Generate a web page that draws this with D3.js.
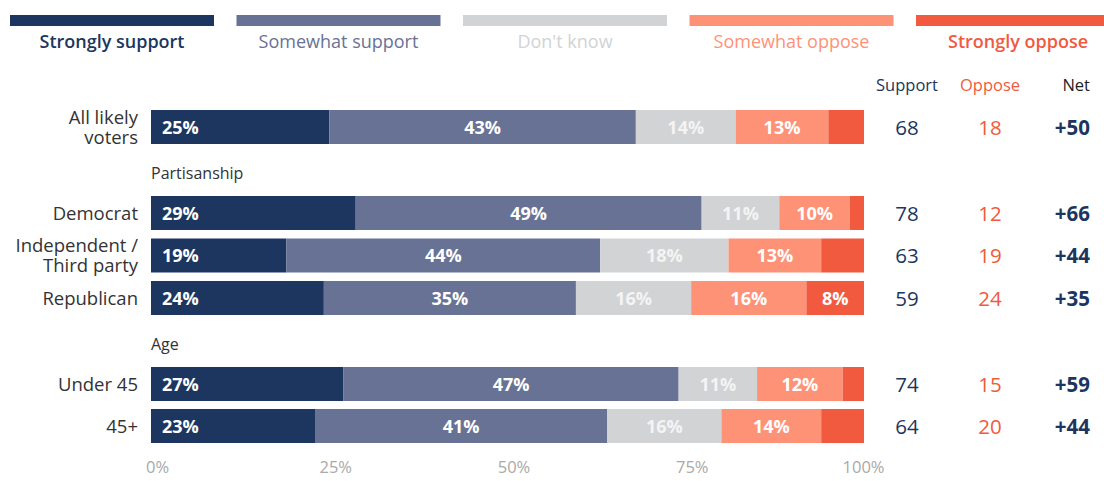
<!DOCTYPE html>
<html>
<head>
<meta charset="utf-8">
<script src="https://cdn.jsdelivr.net/npm/d3@7"></script>
<style>
  html, body { margin: 0; padding: 0; background: #fff; }
  svg { display: block; font-family: "Open Sans", "Lato", sans-serif; }
</style>
</head>
<body>
<svg id="chart" width="1104" height="481"></svg>
<script>
// Response categories, in stacking order
const categories = ["Strongly support", "Somewhat support", "Don't know", "Somewhat oppose", "Strongly oppose"];
const colors = ["#1c3660", "#687295", "#d1d3d5", "#fe9277", "#f15a3e"];
const legendTextColors = ["#1c3660", "#687295", "#d1d3d5", "#fe9277", "#f15a3e"];

// Groups (rows), with section headings
const groups = ["All likely voters", "Democrat", "Independent / Third party", "Republican", "Under 45", "45+"];
const groupLines = [["All likely", "voters"], ["Democrat"], ["Independent /", "Third party"], ["Republican"], ["Under 45"], ["45+"]];
const sections = [{ name: "Partisanship", before: "Democrat" }, { name: "Age", before: "Under 45" }];

// Percent per category, per group
const stronglySupport = [25, 29, 19, 24, 27, 23];
const somewhatSupport = [43, 49, 44, 35, 47, 41];
const dontKnow        = [14, 11, 18, 16, 11, 16];
const somewhatOppose  = [13, 10, 13, 16, 12, 14];
const stronglyOppose  = [5, 2, 6, 8, 3, 6];

// Summary columns
const support = [68, 78, 63, 59, 74, 64];
const oppose  = [18, 12, 19, 24, 15, 20];
const net     = ["+50", "+66", "+44", "+35", "+59", "+44"];

const tickValues = [0, 25, 50, 75, 100];

const series = [stronglySupport, somewhatSupport, dontKnow, somewhatOppose, stronglyOppose];

const svg = d3.select("#chart");

// Horizontal scale over the share of each row's total
const x = d3.scaleLinear().domain([0, 100]).range([151, 864]);

// Vertical positions for each row (sections leave extra room)
const rowTop = { "All likely voters": 110, "Democrat": 196, "Independent / Third party": 238.5, "Republican": 281, "Under 45": 367, "45+": 409 };
const barH = 34;
const y = g => rowTop[g];

// Legend
const legendX = d3.scaleLinear().domain([0, 1]).range([10, 236.5]);
const legend = svg.append("g");
categories.forEach((c, i) => {
  const lx = legendX(i);
  legend.append("rect").attr("x", lx).attr("y", 15).attr("width", 204).attr("height", 11).attr("fill", colors[i]);
  legend.append("text")
    .attr("x", lx + 102).attr("y", 48)
    .attr("text-anchor", "middle")
    .attr("font-size", 18)
    .attr("font-weight", (i === 0 || i === 4) ? 600 : 400)
    .attr("fill", legendTextColors[i])
    .text(c);
});

// Column headers
const colX = { support: 907, oppose: 990, net: 1090 };
svg.append("text").attr("x", colX.support).attr("y", 91).attr("text-anchor", "middle")
  .attr("font-size", 16.5).attr("fill", "#1c3660").text("Support");
svg.append("text").attr("x", colX.oppose).attr("y", 91).attr("text-anchor", "middle")
  .attr("font-size", 16.5).attr("fill", "#f15a3e").text("Oppose");
svg.append("text").attr("x", colX.net).attr("y", 91).attr("text-anchor", "end")
  .attr("font-size", 16.5).attr("fill", "#222").text("Net");

// Section headings
sections.forEach(s => {
  svg.append("text").attr("x", 151).attr("y", y(s.before) - 17)
    .attr("font-size", 16).attr("fill", "#333").text(s.name);
});

// Stacked bars
groups.forEach((g, gi) => {
  const vals = series.map(s => s[gi]);
  const total = d3.sum(vals);
  let acc = 0;
  const row = svg.append("g");
  vals.forEach((v, ci) => {
    const x0 = x(acc / total * 100);
    const x1 = x((acc + v) / total * 100);
    acc += v;
    row.append("rect")
      .attr("x", x0).attr("y", y(g)).attr("width", x1 - x0).attr("height", barH)
      .attr("fill", colors[ci]);
    const showLabel = ci < 4 || v >= 8;
    if (showLabel) {
      const first = ci === 0;
      row.append("text")
        .attr("x", first ? x0 + 11 : (x0 + x1) / 2)
        .attr("y", y(g) + barH / 2 + 6.5)
        .attr("text-anchor", first ? "start" : "middle")
        .attr("font-size", 18)
        .attr("font-weight", 700)
        .attr("fill", ci === 2 ? "#f4f4f4" : "#fff")
        .text(v + "%");
    }
  });

  // Row label (one text element, one tspan per line)
  const lines = groupLines[gi];
  const cy = y(g) + barH / 2;
  const lh = 20;
  const label = svg.append("text")
    .attr("text-anchor", "end")
    .attr("font-size", 18.5)
    .attr("fill", "#333");
  lines.forEach((ln, li) => {
    label.append("tspan")
      .attr("x", 138)
      .attr("y", cy + 6.5 + (li - (lines.length - 1) / 2) * lh)
      .text(ln);
  });

  // Summary columns
  svg.append("text").attr("x", colX.support).attr("y", cy + 7.5).attr("text-anchor", "middle")
    .attr("font-size", 20.5).attr("fill", "#1c3660").text(support[gi]);
  svg.append("text").attr("x", colX.oppose).attr("y", cy + 7.5).attr("text-anchor", "middle")
    .attr("font-size", 20.5).attr("fill", "#f15a3e").text(oppose[gi]);
  svg.append("text").attr("x", colX.net).attr("y", cy + 7.5).attr("text-anchor", "end")
    .attr("font-size", 20.5).attr("font-weight", 700).attr("fill", "#1c3660").text(net[gi]);
});

// Percentage axis labels
const axis = d3.axisBottom(x)
  .tickValues(tickValues)
  .tickFormat(d => d + "%")
  .tickSize(0)
  .tickPadding(0);
const ax = svg.append("g").attr("transform", "translate(6,461)").call(axis);
ax.select(".domain").remove();
ax.selectAll("text")
  .attr("font-family", "\"Open Sans\", \"Lato\", sans-serif")
  .attr("font-size", 16.5)
  .attr("fill", "#a9a9a9");
ax.selectAll(".tick").filter(d => d === 100).select("text").attr("dx", -7);
</script>
</body>
</html>
